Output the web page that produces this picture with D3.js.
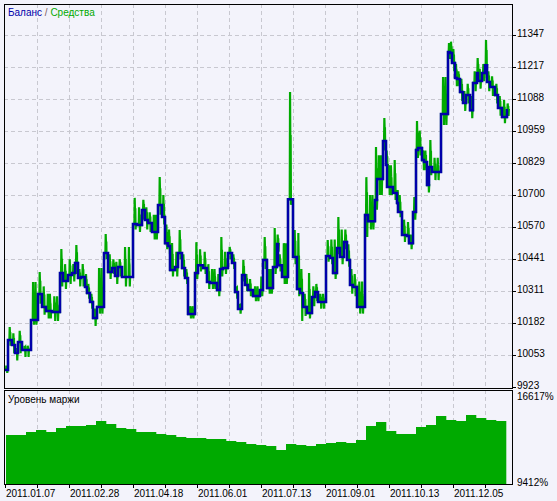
<!DOCTYPE html>
<html><head><meta charset="utf-8">
<script src="https://cdn.jsdelivr.net/npm/d3@7"></script>
<style>body{margin:0;background:#f3f3fb}svg{display:block}</style>
</head><body><svg id="c" width="557" height="501"></svg>
<script>
// balance step segments: trade index where each level starts, and the level
const segStart=[0,3,7,10,13,17,26,33,37,41,47,55,58,63,67,70,73,76,80,82,85,88,92,99,103,107,110,113,117,128,132,137,140,143,147,153,157,160,163,165,170,173,177,180,183,190,193,198,202,205,212,215,218,223,227,230,233,237,240,243,248,255,258,262,268,272,273,277,283,288,292,295,298,302,307,310,313,321,325,328,332,335,339,342,345,348,352,360,363,370,372,378,381,382,388,392,393,397,402,404,408,411,413,417,419,422,424,427,436,443,445,447,450,452,455,458,461,465,468,472,473,477,480,482,485,490,493,497,502];
const lastIndex=503;
const balance=[9992,10113,10093,10061,10105,10073,10194,10299,10247,10230,10226,10384,10352,10376,10384,10425,10364,10368,10328,10303,10267,10202,10247,10465,10388,10404,10372,10408,10368,10582,10578,10639,10599,10586,10550,10659,10611,10505,10493,10396,10408,10465,10404,10364,10218,10384,10416,10404,10348,10344,10315,10400,10404,10465,10425,10307,10239,10376,10336,10315,10291,10315,10437,10323,10408,10501,10416,10368,10683,10449,10319,10303,10247,10222,10287,10307,10267,10453,10445,10384,10485,10449,10510,10437,10336,10328,10247,10619,10594,10679,10764,10918,10821,10732,10708,10667,10631,10538,10534,10505,10631,10882,10890,10841,10833,10740,10813,10793,11027,11278,11274,11234,11173,11169,11116,11072,11104,11043,11153,11193,11161,11193,11225,11157,11137,11104,11052,11015,11043];
const equityHigh=[10010,10166,10140,10080,10150,10090,10348,10388,10330,10300,10290,10481,10420,10440,10420,10497,10400,10420,10380,10340,10300,10240,10404,10542,10460,10440,10430,10440,10489,10688,10650,10680,10650,10630,10620,10772,10700,10580,10560,10505,10470,10558,10460,10400,10250,10509,10480,10470,10420,10400,10380,10530,10470,10490,10460,10330,10260,10437,10380,10360,10330,10370,10530,10400,10566,10540,10460,10505,11116,10558,10546,10400,10300,10384,10330,10340,10300,10518,10520,10520,10611,10560,10560,10500,10400,10380,10350,10772,10700,10894,10860,11011,10880,10820,10841,10720,10700,10600,10590,10540,10692,10999,10960,10880,10880,10800,10922,10850,11177,11314,11320,11290,11230,11200,11170,11120,11150,11100,11200,11254,11210,11230,11327,11200,11180,11150,11100,11084,11070];
const equityLow=[9980,10090,10060,10030,10060,10045,10175,10260,10215,10200,10190,10330,10320,10340,10350,10380,10330,10330,10300,10280,10240,10170,10220,10440,10360,10380,10340,10370,10330,10560,10550,10600,10560,10550,10520,10620,10580,10480,10460,10370,10370,10440,10370,10340,10200,10360,10390,10380,10320,10320,10290,10370,10380,10440,10400,10280,10220,10350,10310,10290,10270,10290,10400,10300,10380,10470,10390,10340,10660,10420,10290,10190,10210,10200,10250,10270,10240,10430,10420,10360,10460,10420,10480,10410,10300,10290,10220,10530,10560,10640,10700,10880,10790,10700,10680,10640,10610,10510,10510,10480,10600,10850,10860,10800,10800,10710,10780,10760,10983,11250,11240,11200,11140,11140,11080,11040,11070,11010,11120,11160,11130,11160,11190,11120,11100,11070,11020,10990,11020];
// margin level, %, in bins of 10 trades starting at index 1
const marginLevel=[13168,13168,13398,13551,13398,13704,13858,13858,13934,14241,14011,13704,13628,13398,13398,13245,13168,13015,12938,12938,12861,12861,12708,12631,12478,12401,12325,12018,12478,12401,12325,12478,12555,12631,12555,12785,13858,14164,13474,13245,13245,13781,13934,14624,14318,14241,14701,14471,14318,14241];
const valueTicks=[11347,11217,11088,10959,10829,10700,10570,10441,10311,10182,10053,9923];
const dateTicks=["2011.01.07","2011.02.28","2011.04.18","2011.06.01","2011.07.13","2011.09.01","2011.10.13","2011.12.05"];
const marginTicks=[16617,9412];

const svg=d3.select("#c");
const font="Liberation Sans, Arial, sans-serif";
const L=4,R=512,T=4,B=388,MT=390,MB=484;
const x=d3.scaleLinear().domain([0,lastIndex]).range([5,508]);
const y=d3.scaleLinear().domain([9923,11347]).range([387,35]);
const ym=d3.scaleLinear().domain([9412,16617]).range([MB,MT]);
const grid="#c8c8d0";

valueTicks.forEach(v=>{ if(v!==9923) svg.append("line").attr("x1",L).attr("x2",R).attr("y1",Math.round(y(v))+.5).attr("y2",Math.round(y(v))+.5).attr("stroke",grid).attr("stroke-dasharray","4,3");});
d3.range(32,503,32).forEach(i=>{[[T,B],[MT,MB]].forEach(([a,b])=>svg.append("line").attr("x1",Math.round(x(i))+.5).attr("x2",Math.round(x(i))+.5).attr("y1",a).attr("y2",b).attr("stroke",grid).attr("stroke-dasharray","4,3"));});

// equity: narrow spikes inside each balance segment
const eq=[];
segStart.forEach((s,i)=>{const e=i+1<segStart.length?segStart[i+1]:lastIndex;const w=e-s;
 const b=balance[i],h=equityHigh[i],l=equityLow[i];
 const spikes=w>=6?[0.25,0.6]:[0.35];
 eq.push([s,b]);
 spikes.forEach((f,k)=>{const a=s+f*w;
   eq.push([a,b],[a+0.3,h],[a+0.6,(h+b)/2],[a+0.9,k===0?h*0.6+b*0.4:h*0.4+b*0.6],[a+1.2,l],[a+1.5,b]);});
 eq.push([e,b]);});
svg.append("path").attr("d",d3.line().x(d=>x(d[0])).y(d=>y(d[1]))(eq)).attr("fill","none").attr("stroke","#00aa00").attr("stroke-width",2.2);
// balance
const bal=segStart.map((s,i)=>[s,balance[i]]);bal.push([lastIndex,balance[balance.length-1]]);
svg.append("path").attr("d",d3.line().curve(d3.curveStepAfter).x(d=>x(d[0])).y(d=>y(d[1]))(bal)).attr("fill","none").attr("stroke","#0000aa").attr("stroke-width",2.5);

svg.selectAll(".mb").data(marginLevel).join("rect").attr("x",(d,i)=>x(1+i*10)).attr("width",(d,i)=>x(11+i*10)-x(1+i*10)+0.3).attr("y",d=>ym(d)).attr("height",d=>MB-ym(d)).attr("fill","#00aa00");

svg.append("rect").attr("x",L+.5).attr("y",T+.5).attr("width",R-L).attr("height",B-T).attr("fill","none").attr("stroke","#000");
svg.append("rect").attr("x",L+.5).attr("y",MT+.5).attr("width",R-L).attr("height",MB-MT).attr("fill","none").attr("stroke","#000");

valueTicks.forEach(v=>{const yy=Math.round(y(v))+.5;svg.append("line").attr("x1",R).attr("x2",R+4).attr("y1",yy).attr("y2",yy).attr("stroke","#000");
 svg.append("text").attr("x",517).attr("y",yy+1).attr("font-family",font).attr("font-size",10).attr("fill","#000").text(v);});
svg.append("text").attr("x",517).attr("y",400).attr("font-family",font).attr("font-size",10).text(marginTicks[0]+"%");
svg.append("text").attr("x",517).attr("y",486).attr("font-family",font).attr("font-size",10).text(marginTicks[1]+"%");
d3.range(0,503,32).forEach(i=>svg.append("line").attr("x1",Math.round(x(i))+.5).attr("x2",Math.round(x(i))+.5).attr("y1",MB).attr("y2",MB+4).attr("stroke","#000"));
dateTicks.forEach((t,k)=>svg.append("text").attr("x",x(k*64)+1).attr("y",497).attr("font-family",font).attr("font-size",10).text(t));
const t1=svg.append("text").attr("x",8).attr("y",16).attr("font-family",font).attr("font-size",10);
t1.append("tspan").attr("fill","#0000aa").text("Баланс");
t1.append("tspan").attr("fill","#806060").text(" / ");
t1.append("tspan").attr("fill","#00aa00").text("Средства");
svg.append("text").attr("x",8).attr("y",403).attr("font-family",font).attr("font-size",10).text("Уровень маржи");
</script></body></html>
